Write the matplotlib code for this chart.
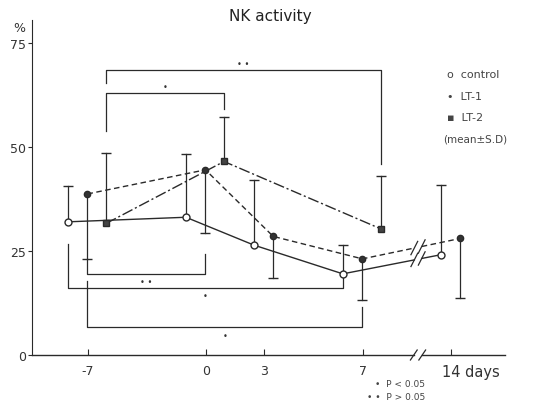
import numpy as np
import matplotlib
matplotlib.use("Agg")
import matplotlib.pyplot as plt

# ---------------- data ----------------
days_tick = [-7, 0, 3, 7, 14]
tick_labels = ["-7", "0", "3", "7", "14 days"]

control_days = [-7, 0, 3, 7, 14]
control_mean = [32.0, 33.1, 26.4, 19.5, 24.1]
control_sd = [8.5, 15.2, 15.7, 6.9, 16.8]      # drawn upward

lt1_days = [-7, 0, 3, 7, 14]
lt1_mean = [38.7, 44.5, 28.5, 23.1, 28.0]
lt1_sd = [15.6, 15.2, 10.0, 10.0, 14.4]        # drawn downward

lt2_days = [-7, 0, 7]
lt2_mean = [31.6, 46.5, 30.3]
lt2_sd = [17.0, 10.7, 12.8]                    # drawn upward

# significance brackets: (series_a, day_a, series_b, day_b, level, start_a, start_b, label, label_below)
brackets = [
    ("lt2", -7, "lt2", 7, 68.5, 65.4, 45.9, "• •", False),
    ("lt2", -7, "lt2", 0, 63.0, 53.8, 59.1, "•", False),
    ("lt1", -7, "lt1", 0, 19.5, 23.1, 24.3, "• •", True),
    ("ctl", -7, "ctl", 7, 16.1, 26.7, 19.0, "•", True),
    ("lt1", -7, "lt1", 7, 6.7, 17.8, 11.5, "•", True),
]

# ---------------- layout ----------------
# nonlinear hand-drawn time axis: axis position of each day
day_axis = {-7: -7.0, 0: 0.0, 3: 3.44, 7: 9.31, 14: 14.53}
break_pos = 12.58
three_offsets = {"ctl": -1.19, "lt1": -0.03, "lt2": 1.07}
two_offsets = {"ctl": -0.59, "lt1": 0.55}


def xpos(series, day):
    if day in lt2_days:
        return day_axis[day] + three_offsets[series]
    return day_axis[day] + two_offsets[series]


col = "#2a2a2a"
fig = plt.figure(figsize=(5.49, 4.06), dpi=100)
ax = fig.add_axes([32 / 549, 50 / 406, 473 / 549, 335 / 406])
ax.set_xlim(-10.32, 17.74)
ax.set_ylim(0, 80.5)
for s in ("top", "right"):
    ax.spines[s].set_visible(False)
ax.spines["left"].set_color(col)
ax.spines["bottom"].set_visible(False)

# bottom axis with a break
ax.plot([-10.32, break_pos - 0.25], [0, 0], color=col, lw=1.0, clip_on=False)
ax.plot([break_pos + 0.25, 17.74], [0, 0], color=col, lw=1.0, clip_on=False)
for dx in (-0.25, 0.25):
    ax.plot([break_pos + dx - 0.2, break_pos + dx + 0.2], [-1.2, 1.2], color=col, lw=0.9, clip_on=False)

ax.set_yticks([0, 25, 50, 75])
ax.set_yticklabels(["0", "25", "50", "75"], fontsize=9, color="#333")
ax.tick_params(axis="y", direction="out", length=3, color=col, pad=1)
ax.set_xticks([day_axis[d] for d in days_tick])
ax.set_xticklabels([])
ax.tick_params(axis="x", direction="in", length=4, color=col)
for d, lab in zip(days_tick, tick_labels):
    if d == 14:
        ax.text(day_axis[d] - 0.5, -2.2, lab, fontsize=10.5, color="#333", ha="left", va="top")
    else:
        ax.text(day_axis[d], -2.2, lab, fontsize=9, color="#333", ha="center", va="top")
ax.text(-11.1, 78.8, "%", fontsize=9, color="#333", ha="center", va="center", clip_on=False)

fig.text(270 / 549, 1 - 17 / 406, "NK activity", fontsize=11, color="#222", ha="center", va="center")


def draw_series(series, days, mean, style, gap_last):
    xs = [xpos(series, d) for d in days]
    ys = list(mean)
    if gap_last:
        g = 0.22
        x0, x1 = xs[-2], xs[-1]
        y0, y1 = ys[-2], ys[-1]
        yb1 = np.interp(break_pos - g, [x0, x1], [y0, y1])
        yb2 = np.interp(break_pos + g, [x0, x1], [y0, y1])
        ax.plot(xs[:-1] + [break_pos - g], ys[:-1] + [yb1], color=col, lw=1.0, ls=style)
        ax.plot([break_pos + g, x1], [yb2, y1], color=col, lw=1.0, ls=style)
        for xb, yb in ((break_pos - g, yb1), (break_pos + g, yb2)):
            ax.plot([xb - 0.2, xb + 0.2], [yb - 1.6, yb + 1.6], color=col, lw=0.9)
    else:
        ax.plot(xs, ys, color=col, lw=1.0, ls=style)
    return xs


xc = draw_series("ctl", control_days, control_mean, "-", True)
x1 = draw_series("lt1", lt1_days, lt1_mean, (0, (4, 2.5)), True)
x2 = draw_series("lt2", lt2_days, lt2_mean, (0, (8, 2, 1.5, 2)), False)

# error bars
def ebar(xs, ys, sd, up):
    for x, y, s in zip(xs, ys, sd):
        end = y + s if up else y - s
        ax.plot([x, x], [y, end], color=col, lw=0.9)
        ax.plot([x], [end], marker="_", ms=7, mew=1.0, color=col)


ebar(xc, control_mean, control_sd, True)
ebar(x1, lt1_mean, lt1_sd, False)
ebar(x2, lt2_mean, lt2_sd, True)

ax.plot(xc, control_mean, ls="none", marker="o", ms=5, mfc="white", mec=col, mew=1.0, zorder=5)
ax.plot(x1, lt1_mean, ls="none", marker="o", ms=4.5, mfc="#333", mec=col, zorder=5)
ax.plot(x2, lt2_mean, ls="none", marker="s", ms=4.5, mfc="#444", mec=col, zorder=5)

# significance brackets
for sa, da, sb, db, lev, ya, yb, lab, below in brackets:
    xa = xpos(sa, da)
    xb = xpos(sb, db)
    ax.plot([xa, xa, xb, xb], [ya, lev, lev, yb], color=col, lw=0.9)
    xm = (xa + xb) / 2
    if below:
        ax.text(xm, lev - 1.9, lab, fontsize=6, color="#333", ha="center", va="center")
    else:
        ax.text(xm, lev + 1.6, lab, fontsize=6, color="#333", ha="center", va="center")

# legend as text
lx = 447 / 549
fig.text(lx, 1 - 75 / 406, "o  control", fontsize=8, color="#444", ha="left", va="center")
fig.text(lx, 1 - 97 / 406, "•  LT-1", fontsize=8, color="#444", ha="left", va="center")
fig.text(lx, 1 - 118 / 406, "▪  LT-2", fontsize=8, color="#444", ha="left", va="center")
fig.text(443 / 549, 1 - 140 / 406, "(mean±S.D)", fontsize=7.5, color="#444", ha="left", va="center")

fig.text(425 / 549, 1 - 385 / 406, "•  P < 0.05", fontsize=6.5, color="#444", ha="right", va="center")
fig.text(425 / 549, 1 - 398 / 406, "• •  P > 0.05", fontsize=6.5, color="#444", ha="right", va="center")

fig.savefig("out.png", dpi=100, facecolor="white")
